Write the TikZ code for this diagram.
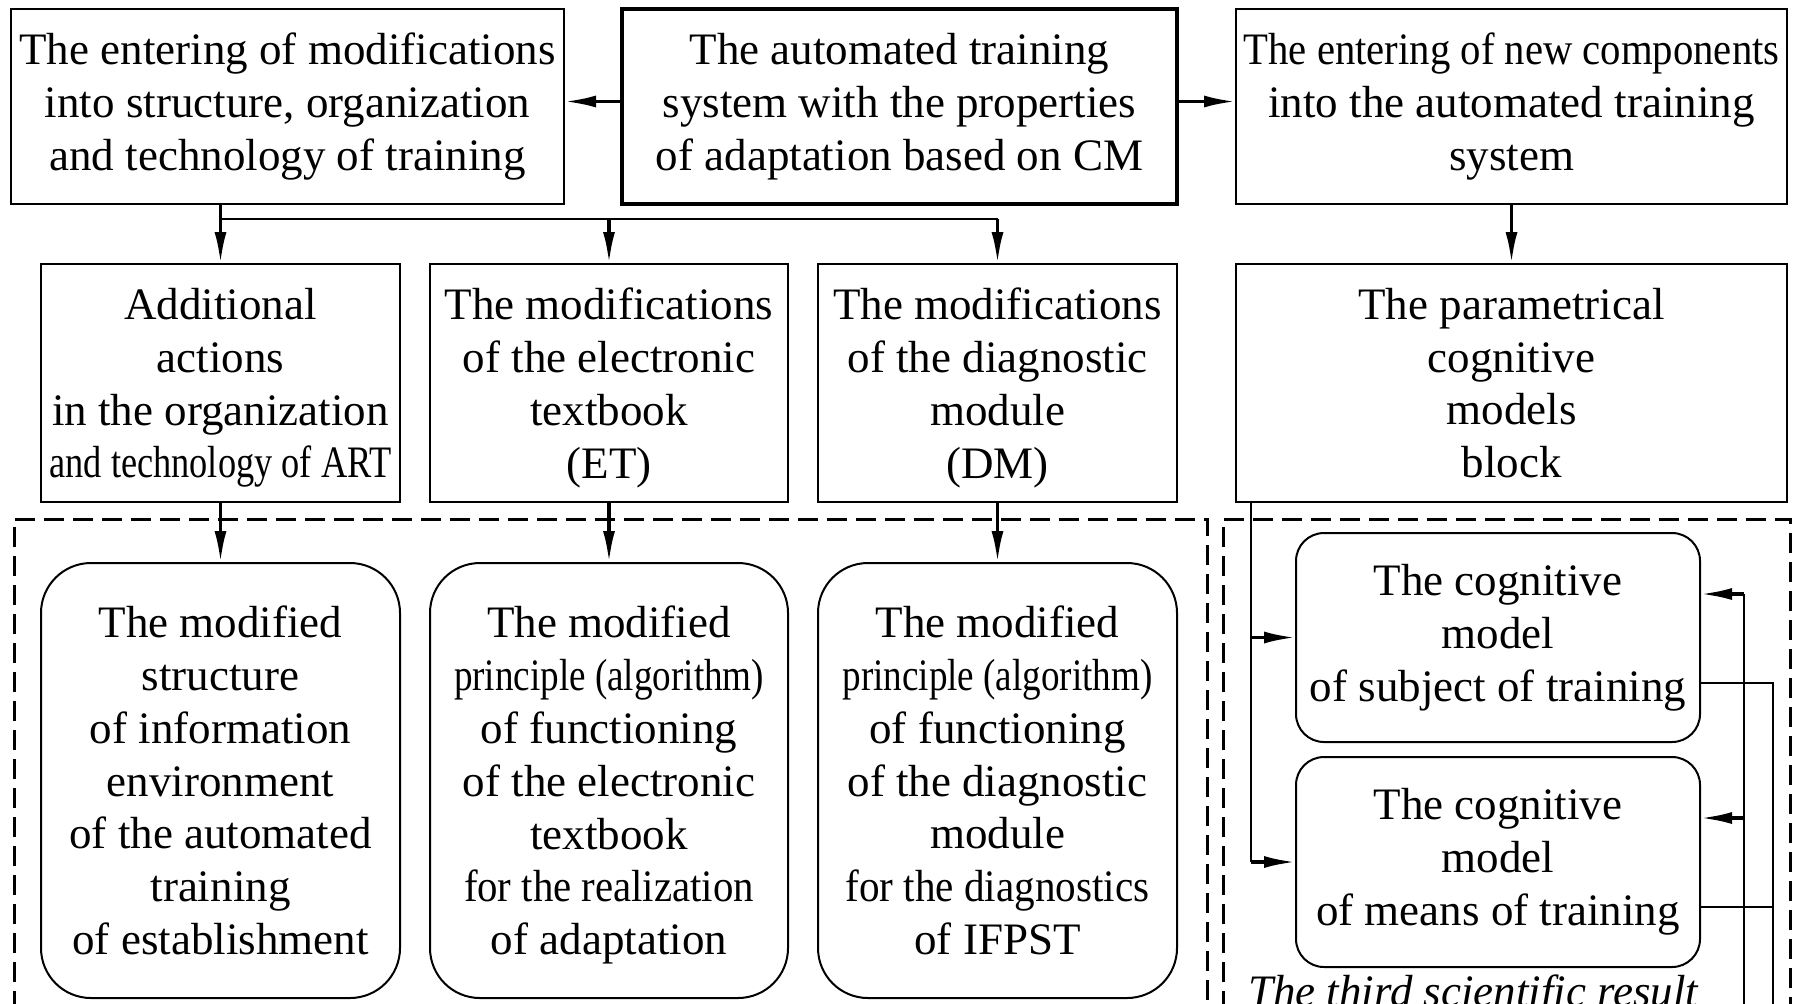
\documentclass[tikz,border=0pt]{standalone}
\usepackage{fontspec}
\usepackage{graphicx}
\setmainfont{Liberation Serif}
\usetikzlibrary{arrows.meta}
\newcommand\sqz[2]{\resizebox{#1}{\height}{#2}}
\begin{document}
\begin{tikzpicture}[x=0.5pt,y=-0.5pt,
  every node/.style={font=\fontsize{22.5}{26.4}\selectfont, align=center, inner sep=0pt, outer sep=0pt},
  box/.style={draw, line width=1pt, rectangle},
  rbox/.style={draw, line width=1pt, rounded corners=25pt},
  cbox/.style={draw, line width=1pt, rounded corners=14pt},
  arr/.style={line width=1.8pt, -{Latex[length=16pt,width=6pt]}},
  ln/.style={line width=1pt},
  dashbox/.style={line width=1.5pt, dash pattern=on 10pt off 4.5pt}
]
\useasboundingbox (0,0) rectangle (1797,1003);
\begin{scope}
\clip (0,0) rectangle (1797,1003);
% dashed groups
\draw[dashbox] (14,1040) -- (14,519) -- (1207,519) -- (1207,1040);
\draw[dashbox] (1223,1040) -- (1223,519) -- (1790,519) -- (1790,1040);

% top row
\node[box, minimum width=276.5pt, minimum height=97.5pt] (tl) at (287.5,106.5)
  {The entering of modifications\\into structure, organization\\and technology of training};
\node[box, line width=2pt, minimum width=277.5pt, minimum height=97.5pt] (c) at (899.5,106.5)
  {The automated training\\system with the properties\\of adaptation based on CM};
\node[box, minimum width=275.5pt, minimum height=97.5pt] (tr) at (1511.5,106.5)
  {\sqz{268pt}{The entering of new components}\\into the automated training\\system};

% second row
\node[box, text depth=0pt, minimum width=179.5pt, minimum height=119pt] (b1) at (220.5,383)
  {Additional\\actions\\in the organization\\\sqz{171pt}{and technology of ART}};
\node[box, text depth=0pt, minimum width=179pt, minimum height=119pt] (b2) at (609,383)
  {The modifications\\of the electronic\\textbook\\(ET)};
\node[box, text depth=0pt, minimum width=179.5pt, minimum height=119pt] (b3) at (997.5,383)
  {The modifications\\of the diagnostic\\module\\(DM)};
\node[box, minimum width=275.5pt, minimum height=119pt] (b4) at (1511.5,383)
  {The parametrical\\cognitive\\models\\block};

% third row
\node[rbox, minimum width=179.5pt, minimum height=217.5pt] (r1) at (220.5,780.5)
  {The modified\\structure\\of information\\environment\\of the automated\\training\\of establishment};
\node[rbox, text depth=0pt, minimum width=179pt, minimum height=217.5pt] (r2) at (609,780.5)
  {The modified\\\sqz{155pt}{principle (algorithm)}\\of functioning\\of the electronic\\textbook\\\sqz{145pt}{for the realization}\\of adaptation};
\node[rbox, minimum width=179.5pt, minimum height=217.5pt] (r3) at (997.5,780.5)
  {The modified\\\sqz{155pt}{principle (algorithm)}\\of functioning\\of the diagnostic\\module\\\sqz{152pt}{for the diagnostics}\\of IFPST};

% cognitive models
\node[cbox, minimum width=202pt, minimum height=104.5pt] (ca) at (1498,637.5)
  {The cognitive\\model\\of subject of training};
\node[cbox, minimum width=202pt, minimum height=105pt] (cb) at (1498,862)
  {The cognitive\\model\\of means of training};

\node[anchor=base west, font=\fontsize{22.5}{26.4}\selectfont\itshape] (res) at (1248,1006)
  {The third scientific result};

% connectors top
\draw[arr] ([yshift=2.5pt]c.west) -- ([yshift=2.5pt]tl.east);
\draw[arr] ([yshift=2.5pt]c.east) -- ([yshift=2.5pt]tr.west);
\coordinate (hy) at (0,219);
\draw[arr] (b1.north |- tl.south) -- (b1.north);
\draw[ln] (b1.north |- hy) -- (b3.north |- hy);
\draw[arr] (b2.north |- hy) -- (b2.north);
\draw[arr] (b3.north |- hy) -- (b3.north);
\draw[arr] (tr.south) -- (b4.north);

% second to third row
\draw[arr] (b1.south) -- (r1.north);
\draw[arr] (b2.south) -- (r2.north);
\draw[arr] (b3.south) -- (r3.north);

% parametrical block to cognitive models
\coordinate (lv) at (1251,0);
\draw[ln] (b4.south -| lv) -- (lv |- cb.west);
\draw[arr] (lv |- ca.west) -- (ca.west);
\draw[arr] (lv |- cb.west) -- (cb.west);

% feedback lines
\coordinate (bot) at (0,1040);
\coordinate (ov) at (1773,0);
\coordinate (iv) at (1744,0);
\coordinate (aout) at ([yshift=-22.75pt]ca.east);
\coordinate (bout) at ([yshift=-22.5pt]cb.east);
\coordinate (ain) at ([yshift=21.75pt]ca.east);
\coordinate (bin) at ([yshift=22pt]cb.east);
\draw[ln] (aout) -- (aout -| ov) -- (ov |- bot);
\draw[ln] (bout) -- (bout -| ov);
\draw[ln] (iv |- bot) -- (ain -| iv);
\draw[arr] (ain -| iv) -- (ain);
\draw[arr] (bin -| iv) -- (bin);
\end{scope}
\end{tikzpicture}
\end{document}
